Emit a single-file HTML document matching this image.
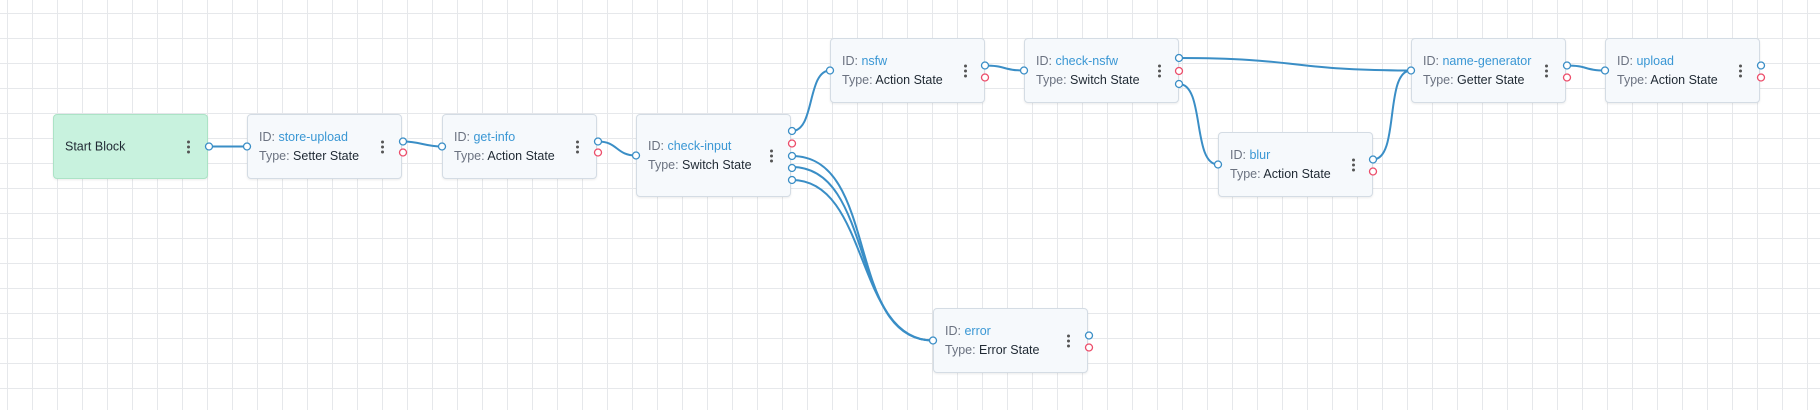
<!DOCTYPE html>
<html><head><meta charset="utf-8"><style>
html,body{margin:0;padding:0}
body{width:1820px;height:410px;overflow:hidden;position:relative;background:#fff;
background-image:linear-gradient(to right,#e6e8eb 1px,transparent 1px),linear-gradient(to bottom,#e6e8eb 1px,transparent 1px);
background-size:25px 25px;background-position:7px 13px;font-family:"Liberation Sans",sans-serif}
.n{position:absolute;width:155px;height:65px;box-sizing:border-box;background:#f6f9fc;border:1px solid #d4dce4;border-radius:4px;box-shadow:0 1px 2px rgba(0,0,0,.08);font-size:12.5px}
.n .t{position:absolute;left:11px;top:50%;transform:translateY(-50%);line-height:19px}
.g{color:#6b7280}.b{color:#3a97d4}.k{color:#1f2933}
.d{position:absolute;right:17px;top:50%;transform:translateY(-50%);width:3px}
.d i{display:block;width:3px;height:3px;border-radius:50%;background:#555;margin:2px 0}
svg{position:absolute;left:0;top:0}
</style></head><body>
<div class="n" style="left:53px;top:114px;background:#c8f2de;border-color:#ace3c6"><div class="t k" style="font-size:12.5px">Start Block</div><div class="d"><i></i><i></i><i></i></div></div>
<div class="n" style="left:247px;top:114px"><div class="t"><span class="g">ID: </span><span class="b">store-upload</span><br><span class="g">Type: </span><span class="k">Setter State</span></div><div class="d"><i></i><i></i><i></i></div></div>
<div class="n" style="left:442px;top:114px"><div class="t"><span class="g">ID: </span><span class="b">get-info</span><br><span class="g">Type: </span><span class="k">Action State</span></div><div class="d"><i></i><i></i><i></i></div></div>
<div class="n" style="left:636px;top:114px;height:83px"><div class="t"><span class="g">ID: </span><span class="b">check-input</span><br><span class="g">Type: </span><span class="k">Switch State</span></div><div class="d"><i></i><i></i><i></i></div></div>
<div class="n" style="left:830px;top:38px"><div class="t"><span class="g">ID: </span><span class="b">nsfw</span><br><span class="g">Type: </span><span class="k">Action State</span></div><div class="d"><i></i><i></i><i></i></div></div>
<div class="n" style="left:1024px;top:38px"><div class="t"><span class="g">ID: </span><span class="b">check-nsfw</span><br><span class="g">Type: </span><span class="k">Switch State</span></div><div class="d"><i></i><i></i><i></i></div></div>
<div class="n" style="left:1218px;top:132px"><div class="t"><span class="g">ID: </span><span class="b">blur</span><br><span class="g">Type: </span><span class="k">Action State</span></div><div class="d"><i></i><i></i><i></i></div></div>
<div class="n" style="left:1411px;top:38px"><div class="t"><span class="g">ID: </span><span class="b">name-generator</span><br><span class="g">Type: </span><span class="k">Getter State</span></div><div class="d"><i></i><i></i><i></i></div></div>
<div class="n" style="left:1605px;top:38px"><div class="t"><span class="g">ID: </span><span class="b">upload</span><br><span class="g">Type: </span><span class="k">Action State</span></div><div class="d"><i></i><i></i><i></i></div></div>
<div class="n" style="left:933px;top:308px"><div class="t"><span class="g">ID: </span><span class="b">error</span><br><span class="g">Type: </span><span class="k">Error State</span></div><div class="d"><i></i><i></i><i></i></div></div>
<svg width="1820" height="410" fill="none">
<g stroke="#3a8ec6" stroke-width="2">
<path d="M209 146.5 L247 146.5"/>
<path d="M403 141.5 C420 141.5 425 146.5 442 146.5"/>
<path d="M598 141.5 C618 141.5 616 155.5 636 155.5"/>
<path d="M792 131 C815 131 807 70.5 830 70.5"/>
<path d="M792 156 C880 156 845 340.5 933 340.5"/>
<path d="M792 167 C875 167 850 340.5 933 340.5"/>
<path d="M792 180 C870 180 855 340.5 933 340.5"/>
<path d="M985 65.5 C1005 65.5 1004 70.5 1024 70.5"/>
<path d="M1179 58 C1300 58 1290 70.5 1411 70.5"/>
<path d="M1179 84 C1205 84 1192 164.5 1218 164.5"/>
<path d="M1373 159.5 C1400 159.5 1384 70.5 1411 70.5"/>
<path d="M1567 65.5 C1587 65.5 1585 70.5 1605 70.5"/>
</g>
<g fill="#fff" stroke-width="1.3">
<g stroke="#3a8ec6">
<circle cx="209" cy="146.5" r="3.5"/><circle cx="247" cy="146.5" r="3.5"/>
<circle cx="403" cy="141.5" r="3.5"/><circle cx="442" cy="146.5" r="3.5"/>
<circle cx="598" cy="141.5" r="3.5"/><circle cx="636" cy="155.5" r="3.5"/>
<circle cx="792" cy="131" r="3.5"/><circle cx="792" cy="156" r="3.5"/><circle cx="792" cy="168" r="3.5"/><circle cx="792" cy="180" r="3.5"/>
<circle cx="830" cy="70.5" r="3.5"/><circle cx="985" cy="65.5" r="3.5"/>
<circle cx="1024" cy="70.5" r="3.5"/><circle cx="1179" cy="58" r="3.5"/><circle cx="1179" cy="84" r="3.5"/>
<circle cx="1218" cy="164.5" r="3.5"/><circle cx="1373" cy="159.5" r="3.5"/>
<circle cx="1411" cy="70.5" r="3.5"/><circle cx="1567" cy="65.5" r="3.5"/>
<circle cx="1605" cy="70.5" r="3.5"/><circle cx="1761" cy="65.5" r="3.5"/>
<circle cx="933" cy="340.5" r="3.5"/><circle cx="1089" cy="335.5" r="3.5"/>
</g>
<g stroke="#ec4d6a">
<circle cx="403" cy="152.5" r="3.5"/><circle cx="598" cy="152.5" r="3.5"/>
<circle cx="792" cy="143.5" r="3.5"/><circle cx="985" cy="77.5" r="3.5"/>
<circle cx="1179" cy="71" r="3.5"/><circle cx="1373" cy="171.5" r="3.5"/>
<circle cx="1567" cy="77.5" r="3.5"/><circle cx="1761" cy="77.5" r="3.5"/>
<circle cx="1089" cy="347.5" r="3.5"/>
</g></g>
</svg>
</body></html>
